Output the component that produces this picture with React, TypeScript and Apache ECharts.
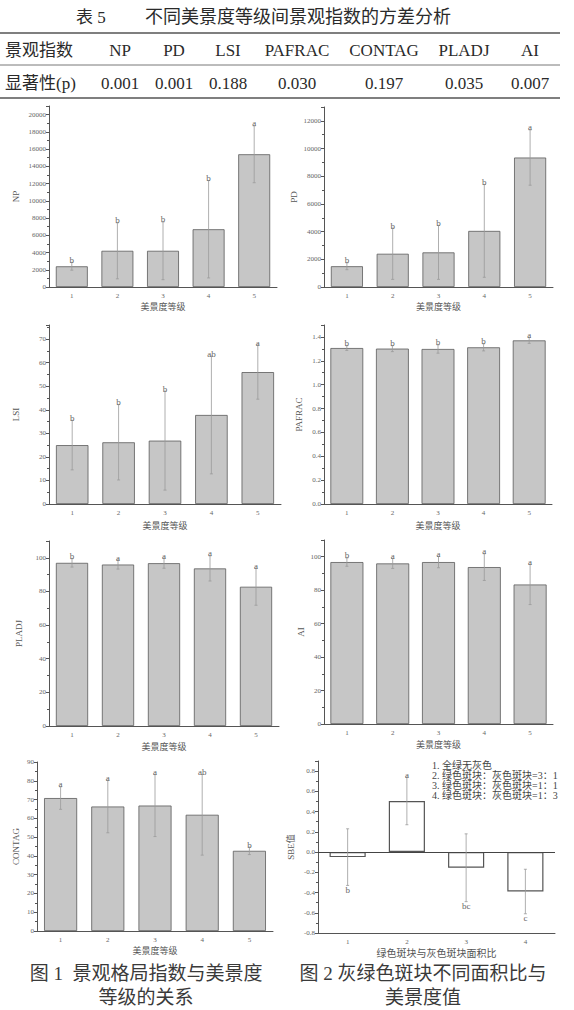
import React, { useEffect, useRef } from 'react';
import * as echarts from 'echarts';

// 美景度等级
const grades = ['1', '2', '3', '4', '5'];

const npMean = [2400, 4200, 4200, 6700, 15400];
const npErr = [450, 3250, 3350, 5650, 3300];
const npSig = ['b', 'b', 'b', 'b', 'a'];

const pdMean = [1500, 2400, 2500, 4050, 9350];
const pdErr = [250, 1850, 1950, 3350, 2000];
const pdSig = ['b', 'b', 'b', 'b', 'a'];

const lsiMean = [25.0, 26.2, 26.9, 37.8, 56.0];
const lsiErr = [10.5, 16, 21, 25, 11.5];
const lsiSig = ['b', 'b', 'b', 'ab', 'a'];

const pafracMean = [1.307, 1.302, 1.299, 1.313, 1.371];
const pafracErr = [0.02, 0.025, 0.035, 0.03, 0.025];
const pafracSig = ['b', 'b', 'b', 'b', 'a'];

const pladjMean = [97.0, 96.0, 96.8, 93.7, 82.8];
const pladjErr = [2.5, 2.7, 3.0, 7.5, 11];
const pladjSig = ['b', 'a', 'a', 'a', 'a'];

const aiMean = [96.8, 96.0, 96.8, 93.8, 83.4];
const aiErr = [2.5, 3, 3.4, 8, 12];
const aiSig = ['b', 'a', 'a', 'a', 'a'];

const contagMean = [70.8, 66.3, 66.8, 61.9, 42.7];
const contagErr = [6, 14, 16.5, 21.5, 2];
const contagSig = ['a', 'a', 'a', 'ab', 'b'];

// 灰绿色斑块面积比
const ratios = ['1', '2', '3', '4'];
const sbeMean = [-0.05, 0.505, -0.155, -0.39];
const sbeErr = [0.28, 0.235, 0.335, 0.22];
const sbeSig = ['b', 'a', 'bc', 'c'];
const sbeLegend = [
  '1. 全绿无灰色',
  '2. 绿色斑块：灰色斑块=3：1',
  '3. 绿色斑块：灰色斑块=1：1',
  '4. 绿色斑块：灰色斑块=1：3',
];

// 表 5
const tableTitle = ['表 5', '不同美景度等级间景观指数的方差分析'];
const tableHead = ['景观指数', 'NP', 'PD', 'LSI', 'PAFRAC', 'CONTAG', 'PLADJ', 'AI'];
const tableSig = ['显著性(p)', '0.001', '0.001', '0.188', '0.030', '0.197', '0.035', '0.007'];

const captions = [
  ['图 1  景观格局指数与美景度', '等级的关系'],
  ['图 2 灰绿色斑块不同面积比与', '美景度值'],
];

const FONT = '"Liberation Serif", "Noto Sans CJK SC", serif';
const axisColor = '#555';

const intFmt = (v: number) => String(Math.round(v));
const fix1 = (v: number) => v.toFixed(1);

interface Panel {
  left: number;
  top: number;
  width: number;
  height: number;
  cats: string[];
  mean: number[];
  err: number[];
  sig: string[];
  yName: string;
  xName: string;
  yGap: number;
  xGap: number;
  min: number;
  max: number;
  interval: number;
  showMax: boolean;
  fmt: (v: number) => string;
  barWidth: string;
  hollow?: boolean;
  xNameSize?: number;
}

const panels: Panel[] = [
  { left: 49, top: 106, width: 228, height: 181, cats: grades, mean: npMean, err: npErr, sig: npSig,
    yName: 'NP', xName: '美景度等级', yGap: 29, xGap: 15, min: 0, max: 21000, interval: 2000, showMax: false, fmt: intFmt, barWidth: '70%' },
  { left: 324, top: 107, width: 229, height: 180, cats: grades, mean: pdMean, err: pdErr, sig: pdSig,
    yName: 'PD', xName: '美景度等级', yGap: 26, xGap: 15, min: 0, max: 13000, interval: 2000, showMax: false, fmt: intFmt, barWidth: '70%' },
  { left: 49, top: 325, width: 232, height: 179, cats: grades, mean: lsiMean, err: lsiErr, sig: lsiSig,
    yName: 'LSI', xName: '美景度等级', yGap: 29, xGap: 17, min: 0, max: 76, interval: 10, showMax: false, fmt: intFmt, barWidth: '70%' },
  { left: 324, top: 325, width: 228, height: 179, cats: grades, mean: pafracMean, err: pafracErr, sig: pafracSig,
    yName: 'PAFRAC', xName: '美景度等级', yGap: 21, xGap: 17, min: 0, max: 1.5, interval: 0.2, showMax: false, fmt: fix1, barWidth: '72%' },
  { left: 49, top: 541, width: 230, height: 185, cats: grades, mean: pladjMean, err: pladjErr, sig: pladjSig,
    yName: 'PLADJ', xName: '美景度等级', yGap: 26, xGap: 16, min: 0, max: 110, interval: 20, showMax: false, fmt: intFmt, barWidth: '70%' },
  { left: 324, top: 540, width: 229, height: 184, cats: grades, mean: aiMean, err: aiErr, sig: aiSig,
    yName: 'AI', xName: '美景度等级', yGap: 19, xGap: 16, min: 0, max: 110, interval: 20, showMax: false, fmt: intFmt, barWidth: '72%' },
  { left: 37, top: 762, width: 236, height: 169, cats: grades, mean: contagMean, err: contagErr, sig: contagSig,
    yName: 'CONTAG', xName: '美景度等级', yGap: 17, xGap: 15, min: 0, max: 90, interval: 10, showMax: true, fmt: intFmt, barWidth: '70%' },
  { left: 318, top: 761, width: 237, height: 172, cats: ratios, mean: sbeMean, err: sbeErr, sig: sbeSig,
    yName: 'SBE值', xName: '绿色斑块与灰色斑块面积比', yGap: 23, xGap: 15, min: -0.8, max: 0.9, interval: 0.2, showMax: false, fmt: fix1, barWidth: '61%', hollow: true, xNameSize: 10 },
];

const tableCols = [5, 120, 174, 228, 297, 384, 464, 530];

const buildOption = () => {
  const grid: any[] = [];
  const xAxis: any[] = [];
  const yAxis: any[] = [];
  const series: any[] = [];

  panels.forEach((p, gi) => {
    grid.push({ left: p.left, top: p.top, width: p.width, height: p.height });
    xAxis.push({
      type: 'category',
      gridIndex: gi,
      data: p.cats,
      name: p.xName,
      nameLocation: 'middle',
      nameGap: p.xGap,
      nameTextStyle: { fontSize: p.xNameSize || 9, color: '#555', fontFamily: FONT },
      axisLine: { onZero: false, lineStyle: { color: axisColor, width: 1 } },
      axisTick: { alignWithLabel: true, length: 3, lineStyle: { color: axisColor } },
      axisLabel: { fontSize: 7, color: '#666', margin: 5, fontFamily: FONT },
    });
    yAxis.push({
      type: 'value',
      gridIndex: gi,
      min: p.min,
      max: p.max,
      interval: p.interval,
      name: p.yName,
      nameLocation: 'middle',
      nameGap: p.yGap,
      nameTextStyle: { fontSize: 9, color: '#555', fontFamily: FONT },
      axisLine: { show: true, lineStyle: { color: axisColor, width: 1 } },
      axisTick: { show: true, length: 3, lineStyle: { color: axisColor } },
      minorTick: { show: true, splitNumber: 2, length: 2, lineStyle: { color: axisColor } },
      splitLine: { show: false },
      axisLabel: {
        fontSize: 7,
        color: '#666',
        margin: 3,
        fontFamily: FONT,
        showMaxLabel: p.showMax,
        formatter: p.fmt,
      },
    });
    series.push({
      type: 'bar',
      xAxisIndex: gi,
      yAxisIndex: gi,
      data: p.mean,
      barWidth: p.barWidth,
      itemStyle: p.hollow
        ? { color: '#fff', borderColor: '#555', borderWidth: 1.2 }
        : { color: '#c6c6c6', borderColor: '#5a5a5a', borderWidth: 0.8 },
      markLine: p.hollow
        ? {
            silent: true,
            symbol: 'none',
            label: { show: false },
            lineStyle: { color: '#444', type: 'solid', width: 1 },
            data: [{ yAxis: 0 }],
          }
        : undefined,
    });
    // 误差线 + 显著性字母
    series.push({
      type: 'custom',
      xAxisIndex: gi,
      yAxisIndex: gi,
      z: 5,
      clip: false,
      data: p.mean.map((m, i) => [i, m, p.err[i]]),
      renderItem: (params: any, api: any) => {
        const i = api.value(0);
        const m = api.value(1);
        const e = api.value(2);
        const hi = api.coord([i, m + e]);
        const lo = api.coord([i, m - e]);
        const x = hi[0];
        const below = p.hollow && m < 0;
        const st = { stroke: '#9a9a9a', lineWidth: 0.8 };
        return {
          type: 'group',
          children: [
            { type: 'line', shape: { x1: x, y1: hi[1], x2: x, y2: lo[1] }, style: st },
            { type: 'line', shape: { x1: x - 1.5, y1: hi[1], x2: x + 1.5, y2: hi[1] }, style: st },
            { type: 'line', shape: { x1: x - 1.5, y1: lo[1], x2: x + 1.5, y2: lo[1] }, style: st },
            {
              type: 'text',
              x,
              y: below ? lo[1] : hi[1] + 2,
              style: {
                text: p.sig[params.dataIndex],
                fill: '#666',
                fontSize: 9,
                fontFamily: FONT,
                align: 'center',
                verticalAlign: below ? 'top' : 'bottom',
              },
            },
          ],
        };
      },
    });
  });

  const txt = (text: string, x: number, y: number, size: number, align = 'left', fill = '#2a2a2a') => ({
    type: 'text',
    x,
    y,
    silent: true,
    style: {
      text,
      fill,
      fontSize: size,
      fontFamily: FONT,
      align,
      verticalAlign: 'middle',
    },
  });

  const hline = (y: number, w: number) => ({
    type: 'line',
    silent: true,
    shape: { x1: 0, y1: y, x2: 560, y2: y },
    style: { stroke: '#555', lineWidth: w },
  });

  const graphic: any[] = [
    txt(tableTitle[0], 76, 17, 17),
    txt(tableTitle[1], 145, 17, 18),
    hline(33, 1.3),
    hline(65, 0.8),
    hline(98, 1.3),
    ...tableHead.map((t, i) => txt(t, tableCols[i], 50, 17, i === 0 ? 'left' : 'center')),
    ...tableSig.map((t, i) => txt(t, tableCols[i], 83, 17, i === 0 ? 'left' : 'center')),
    {
      type: 'text',
      x: 432,
      y: 760,
      silent: true,
      style: {
        text: sbeLegend.join('\n'),
        fill: '#444',
        fontSize: 10,
        lineHeight: 10,
        fontFamily: FONT,
        align: 'left',
        verticalAlign: 'top',
      },
    },
    txt(captions[0][0], 146, 973, 19, 'center', '#3a3a3a'),
    txt(captions[0][1], 146, 997, 19, 'center', '#3a3a3a'),
    txt(captions[1][0], 423, 973, 19, 'center', '#3a3a3a'),
    txt(captions[1][1], 423, 997, 19, 'center', '#3a3a3a'),
  ];

  return {
    animation: false,
    backgroundColor: '#fff',
    textStyle: { fontFamily: FONT },
    grid,
    xAxis,
    yAxis,
    series,
    graphic,
  };
};

const App: React.FC = () => {
  const chartRef = useRef<HTMLDivElement>(null);

  useEffect(() => {
    if (!chartRef.current) return;
    const chart = echarts.init(chartRef.current, undefined, { renderer: 'svg' });
    chart.setOption(buildOption());
    return () => {
      chart.dispose();
    };
  }, []);

  return (
    <div
      ref={chartRef}
      style={{ position: 'absolute', left: 0, top: 0, width: '574px', height: '1010px' }}
    />
  );
};

export default App;
